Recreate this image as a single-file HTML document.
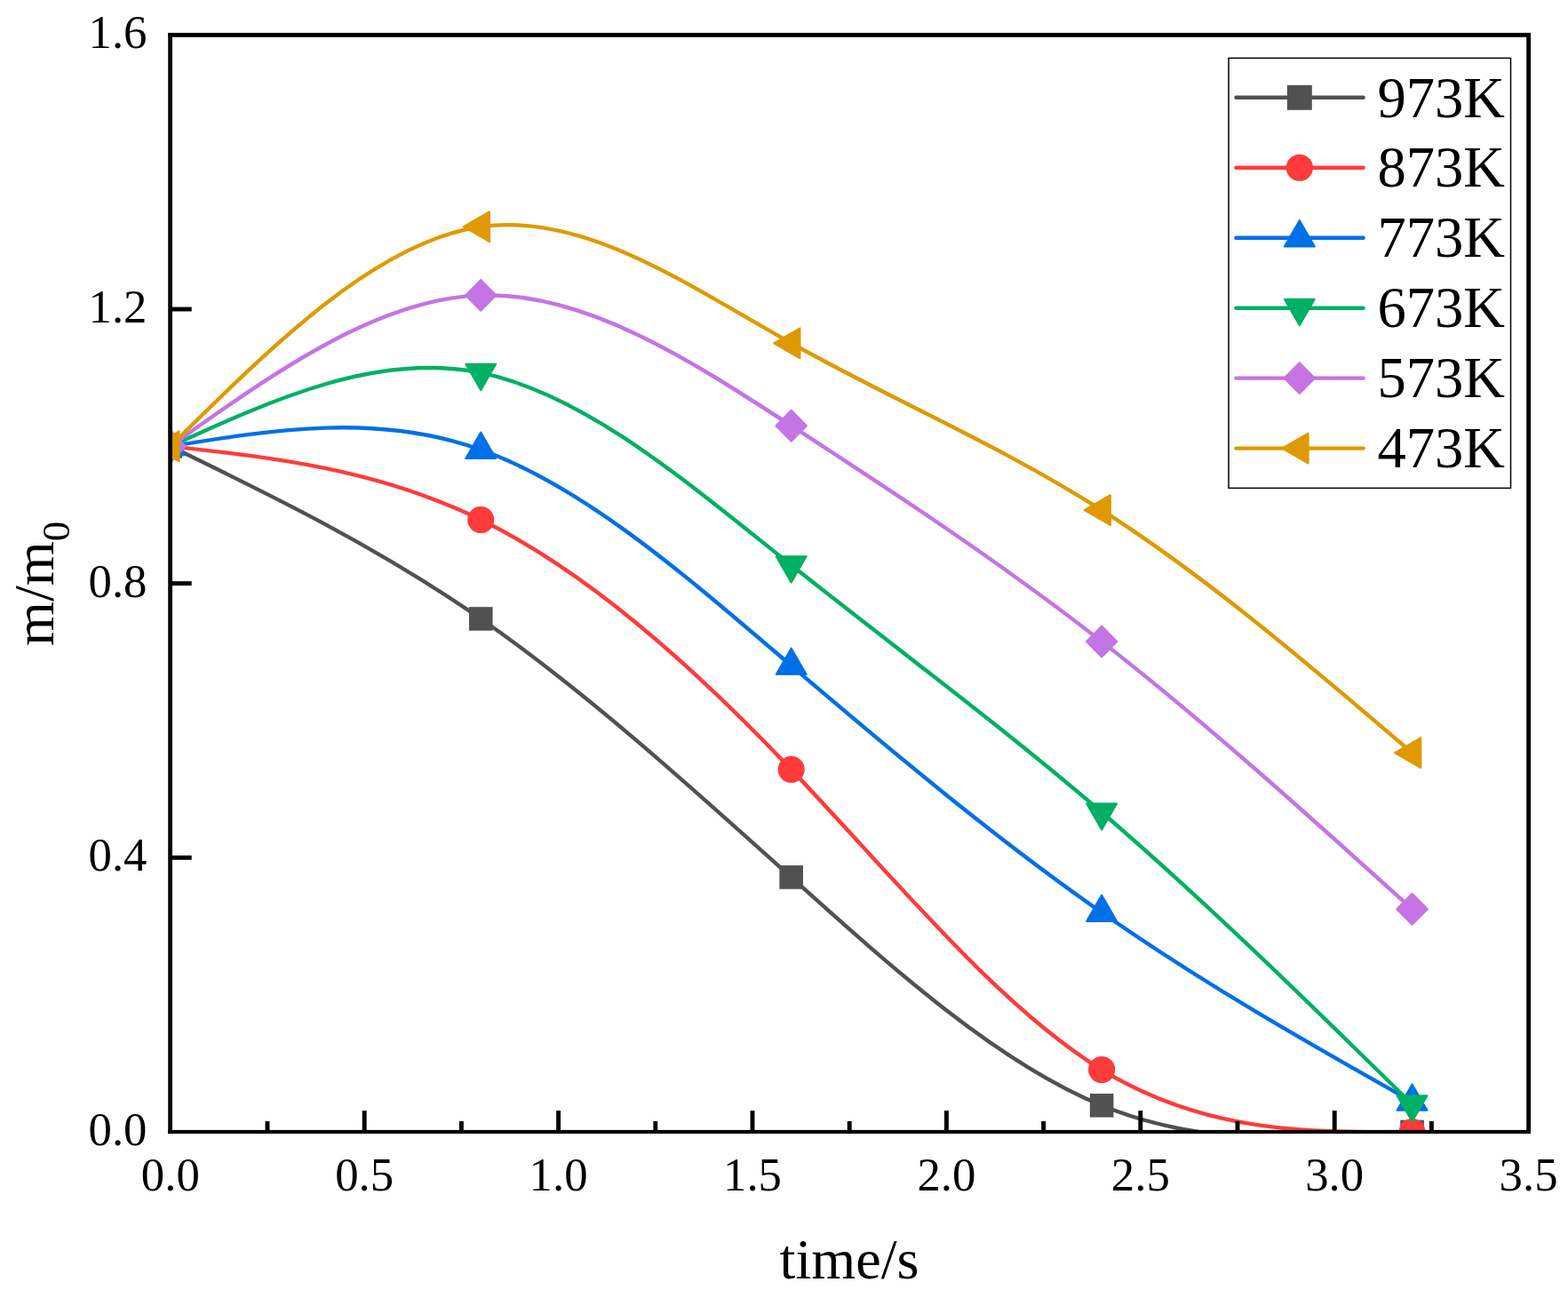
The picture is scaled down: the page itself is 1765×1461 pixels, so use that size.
<!DOCTYPE html>
<html lang="en">
<head>
<meta charset="utf-8">
<title>m/m0 versus time</title>
<style>
html,body{margin:0;padding:0;background:#fff;}
body{width:1765px;height:1461px;overflow:hidden;}
svg{display:block;}
text{font-family:"Liberation Serif","Times New Roman",Times,serif;fill:#000;}
.tick{font-size:52.8px;}
.title{font-size:64.2px;}
.leg{font-size:64.6px;}
.sub{font-size:45px;}
</style>
</head>
<body>
<svg width="1765" height="1461" viewBox="0 0 1765 1461">
<rect x="0" y="0" width="1765" height="1461" fill="#ffffff"/>
<defs><clipPath id="plot"><rect x="191.8" y="39.36" width="1528.8" height="1234.64"/></clipPath></defs>
<g clip-path="url(#plot)">
<g id="s973">
<path d="M191.8,502.35 C308.28,558.97 424.76,615.59 541.24,696.5 C657.72,777.41 774.2,882.61 890.68,987.41 C1007.16,1092.21 1123.64,1196.59 1240.12,1244.29 C1356.6,1291.99 1473.08,1282.99 1589.56,1274" fill="none" stroke="#515151" stroke-width="4.4" stroke-linecap="round" stroke-linejoin="round"/>
<rect x="178.5" y="489.05" width="26.6" height="26.6" fill="#515151"/>
<rect x="527.94" y="683.2" width="26.6" height="26.6" fill="#515151"/>
<rect x="877.38" y="974.11" width="26.6" height="26.6" fill="#515151"/>
<rect x="1226.82" y="1230.99" width="26.6" height="26.6" fill="#515151"/>
<rect x="1576.26" y="1260.7" width="26.6" height="26.6" fill="#515151"/>
</g>
<g id="s873">
<path d="M191.8,502.35 C308.28,515.17 424.76,527.98 541.24,585.07 C657.72,642.16 774.2,743.52 890.68,866.11 C1007.16,988.69 1123.64,1132.49 1240.12,1204.01 C1356.6,1275.53 1473.08,1274.77 1589.56,1274" fill="none" stroke="#FF3B3B" stroke-width="4.4" stroke-linecap="round" stroke-linejoin="round"/>
<circle cx="191.8" cy="502.35" r="15.1" fill="#FF3B3B"/>
<circle cx="541.24" cy="585.07" r="15.1" fill="#FF3B3B"/>
<circle cx="890.68" cy="866.11" r="15.1" fill="#FF3B3B"/>
<circle cx="1240.12" cy="1204.01" r="15.1" fill="#FF3B3B"/>
<circle cx="1589.56" cy="1274" r="15.1" fill="#FF3B3B"/>
</g>
<g id="s773">
<path d="M191.8,502.35 C308.28,483.49 424.76,464.63 541.24,506.21 C657.72,547.79 774.2,649.8 890.68,749.28 C1007.16,848.76 1123.64,945.7 1240.12,1027.07 C1356.6,1108.44 1473.08,1174.25 1589.56,1240.05" fill="none" stroke="#0070E6" stroke-width="4.4" stroke-linecap="round" stroke-linejoin="round"/>
<polygon points="191.8,482.72 174.8,512.16 208.8,512.16" fill="#0070E6" stroke="#0070E6" stroke-width="2" stroke-linejoin="round"/>
<polygon points="541.24,486.58 524.24,516.02 558.24,516.02" fill="#0070E6" stroke="#0070E6" stroke-width="2" stroke-linejoin="round"/>
<polygon points="890.68,729.65 873.68,759.09 907.68,759.09" fill="#0070E6" stroke="#0070E6" stroke-width="2" stroke-linejoin="round"/>
<polygon points="1240.12,1007.44 1223.12,1036.89 1257.12,1036.89" fill="#0070E6" stroke="#0070E6" stroke-width="2" stroke-linejoin="round"/>
<polygon points="1589.56,1220.42 1572.56,1249.86 1606.56,1249.86" fill="#0070E6" stroke="#0070E6" stroke-width="2" stroke-linejoin="round"/>
</g>
<g id="s673">
<path d="M191.8,502.35 C308.28,449.23 424.76,396.12 541.24,419.63 C657.72,443.14 774.2,543.28 890.68,636.08 C1007.16,728.87 1123.64,814.33 1240.12,914.26 C1356.6,1014.18 1473.08,1128.58 1589.56,1242.98" fill="none" stroke="#00B064" stroke-width="4.4" stroke-linecap="round" stroke-linejoin="round"/>
<polygon points="191.8,521.98 174.8,492.54 208.8,492.54" fill="#00B064" stroke="#00B064" stroke-width="2" stroke-linejoin="round"/>
<polygon points="541.24,439.26 524.24,409.81 558.24,409.81" fill="#00B064" stroke="#00B064" stroke-width="2" stroke-linejoin="round"/>
<polygon points="890.68,655.71 873.68,626.26 907.68,626.26" fill="#00B064" stroke="#00B064" stroke-width="2" stroke-linejoin="round"/>
<polygon points="1240.12,933.89 1223.12,904.44 1257.12,904.44" fill="#00B064" stroke="#00B064" stroke-width="2" stroke-linejoin="round"/>
<polygon points="1589.56,1262.61 1572.56,1233.16 1606.56,1233.16" fill="#00B064" stroke="#00B064" stroke-width="2" stroke-linejoin="round"/>
</g>
<g id="s573">
<path d="M191.8,502.35 C308.28,419.34 424.76,336.32 541.24,332.36 C657.72,328.39 774.2,403.46 890.68,479.2 C1007.16,554.94 1123.64,631.34 1240.12,722.12 C1356.6,812.9 1473.08,918.05 1589.56,1023.21" fill="none" stroke="#C474E4" stroke-width="4.4" stroke-linecap="round" stroke-linejoin="round"/>
<polygon points="191.8,484.85 209.1,502.35 191.8,519.85 174.5,502.35" fill="#C474E4" stroke="#C474E4" stroke-width="2" stroke-linejoin="round"/>
<polygon points="541.24,314.86 558.54,332.36 541.24,349.86 523.94,332.36" fill="#C474E4" stroke="#C474E4" stroke-width="2" stroke-linejoin="round"/>
<polygon points="890.68,461.7 907.98,479.2 890.68,496.7 873.38,479.2" fill="#C474E4" stroke="#C474E4" stroke-width="2" stroke-linejoin="round"/>
<polygon points="1240.12,704.62 1257.42,722.12 1240.12,739.62 1222.82,722.12" fill="#C474E4" stroke="#C474E4" stroke-width="2" stroke-linejoin="round"/>
<polygon points="1589.56,1005.71 1606.86,1023.21 1589.56,1040.71 1572.26,1023.21" fill="#C474E4" stroke="#C474E4" stroke-width="2" stroke-linejoin="round"/>
</g>
<g id="s473">
<path d="M191.8,502.35 C308.28,387.04 424.76,271.72 541.24,255.19 C657.72,238.66 774.2,320.92 890.68,386.29 C1007.16,451.67 1123.64,500.17 1240.12,574.19 C1356.6,648.21 1473.08,747.74 1589.56,847.28" fill="none" stroke="#DE9A00" stroke-width="4.4" stroke-linecap="round" stroke-linejoin="round"/>
<polygon points="172.17,502.35 201.61,485.35 201.61,519.35" fill="#DE9A00" stroke="#DE9A00" stroke-width="2" stroke-linejoin="round"/>
<polygon points="521.61,255.19 551.05,238.19 551.05,272.19" fill="#DE9A00" stroke="#DE9A00" stroke-width="2" stroke-linejoin="round"/>
<polygon points="871.05,386.29 900.49,369.29 900.49,403.29" fill="#DE9A00" stroke="#DE9A00" stroke-width="2" stroke-linejoin="round"/>
<polygon points="1220.49,574.19 1249.93,557.19 1249.93,591.19" fill="#DE9A00" stroke="#DE9A00" stroke-width="2" stroke-linejoin="round"/>
<polygon points="1569.93,847.28 1599.37,830.28 1599.37,864.28" fill="#DE9A00" stroke="#DE9A00" stroke-width="2" stroke-linejoin="round"/>
</g>
</g>
<g stroke="#000" stroke-width="4.9" fill="none" stroke-linecap="butt">
<line x1="301" y1="1274" x2="301" y2="1262"/>
<line x1="410.2" y1="1274" x2="410.2" y2="1250.1"/>
<line x1="519.4" y1="1274" x2="519.4" y2="1262"/>
<line x1="628.6" y1="1274" x2="628.6" y2="1250.1"/>
<line x1="737.8" y1="1274" x2="737.8" y2="1262"/>
<line x1="847" y1="1274" x2="847" y2="1250.1"/>
<line x1="956.2" y1="1274" x2="956.2" y2="1262"/>
<line x1="1065.4" y1="1274" x2="1065.4" y2="1250.1"/>
<line x1="1174.6" y1="1274" x2="1174.6" y2="1262"/>
<line x1="1283.8" y1="1274" x2="1283.8" y2="1250.1"/>
<line x1="1393" y1="1274" x2="1393" y2="1262"/>
<line x1="1502.2" y1="1274" x2="1502.2" y2="1250.1"/>
<line x1="1611.4" y1="1274" x2="1611.4" y2="1262"/>
<line x1="191.8" y1="965.34" x2="215.7" y2="965.34"/>
<line x1="191.8" y1="656.68" x2="215.7" y2="656.68"/>
<line x1="191.8" y1="348.02" x2="215.7" y2="348.02"/>
</g>
<g fill="#000">
<rect x="189.2" y="36.95" width="4.8" height="1239.1"/>
<rect x="1718.2" y="36.95" width="4.8" height="1239.1"/>
<rect x="189.2" y="36.95" width="1533.8" height="4.85"/>
<rect x="189.2" y="1271.9" width="1533.8" height="4.15"/>
</g>
<g class="tick" text-anchor="end">
<text transform="translate(165.5,1289.1) scale(1,1.015)">0.0</text>
<text transform="translate(165.5,980.44) scale(1,1.015)">0.4</text>
<text transform="translate(165.5,671.78) scale(1,1.015)">0.8</text>
<text transform="translate(165.5,363.12) scale(1,1.015)">1.2</text>
<text transform="translate(165.5,54.46) scale(1,1.015)">1.6</text>
</g>
<g class="tick" text-anchor="middle">
<text transform="translate(191.8,1339.6) scale(1,1.015)">0.0</text>
<text transform="translate(410.2,1339.6) scale(1,1.015)">0.5</text>
<text transform="translate(628.6,1339.6) scale(1,1.015)">1.0</text>
<text transform="translate(847,1339.6) scale(1,1.015)">1.5</text>
<text transform="translate(1065.4,1339.6) scale(1,1.015)">2.0</text>
<text transform="translate(1283.8,1339.6) scale(1,1.015)">2.5</text>
<text transform="translate(1502.2,1339.6) scale(1,1.015)">3.0</text>
<text transform="translate(1720.6,1339.6) scale(1,1.015)">3.5</text>
</g>
<text class="title" text-anchor="middle" transform="translate(956,1438.7) scale(1,1.0)">time/s</text>
<text class="title" text-anchor="middle" transform="translate(59.9,656.8) rotate(-90) scale(1,1.0)">m/m<tspan class="sub" dy="18">0</tspan></text>
<rect x="1383" y="65.4" width="317.5" height="484" fill="#fff" stroke="#000" stroke-width="1.5"/>
<line x1="1391.4" y1="109.8" x2="1534.6" y2="109.8" stroke="#515151" stroke-width="4.4" stroke-linecap="round"/>
<rect x="1448.8" y="95.8" width="28" height="28" fill="#515151"/>
<text class="leg" transform="translate(1550.4,131.5) scale(1,1.02)">973K</text>
<line x1="1391.4" y1="188.76" x2="1534.6" y2="188.76" stroke="#FF3B3B" stroke-width="4.4" stroke-linecap="round"/>
<circle cx="1462.8" cy="188.76" r="15.1" fill="#FF3B3B"/>
<text class="leg" transform="translate(1550.4,210.46) scale(1,1.02)">873K</text>
<line x1="1391.4" y1="267.72" x2="1534.6" y2="267.72" stroke="#0070E6" stroke-width="4.4" stroke-linecap="round"/>
<polygon points="1462.8,248.09 1445.8,277.53 1479.8,277.53" fill="#0070E6" stroke="#0070E6" stroke-width="2" stroke-linejoin="round"/>
<text class="leg" transform="translate(1550.4,289.42) scale(1,1.02)">773K</text>
<line x1="1391.4" y1="346.68" x2="1534.6" y2="346.68" stroke="#00B064" stroke-width="4.4" stroke-linecap="round"/>
<polygon points="1462.8,366.31 1445.8,336.87 1479.8,336.87" fill="#00B064" stroke="#00B064" stroke-width="2" stroke-linejoin="round"/>
<text class="leg" transform="translate(1550.4,368.38) scale(1,1.02)">673K</text>
<line x1="1391.4" y1="425.64" x2="1534.6" y2="425.64" stroke="#C474E4" stroke-width="4.4" stroke-linecap="round"/>
<polygon points="1462.8,408.14 1480.1,425.64 1462.8,443.14 1445.5,425.64" fill="#C474E4" stroke="#C474E4" stroke-width="2" stroke-linejoin="round"/>
<text class="leg" transform="translate(1550.4,447.34) scale(1,1.02)">573K</text>
<line x1="1391.4" y1="504.6" x2="1534.6" y2="504.6" stroke="#DE9A00" stroke-width="4.4" stroke-linecap="round"/>
<polygon points="1443.17,504.6 1472.61,487.6 1472.61,521.6" fill="#DE9A00" stroke="#DE9A00" stroke-width="2" stroke-linejoin="round"/>
<text class="leg" transform="translate(1550.4,526.3) scale(1,1.02)">473K</text>
</svg>
</body>
</html>
